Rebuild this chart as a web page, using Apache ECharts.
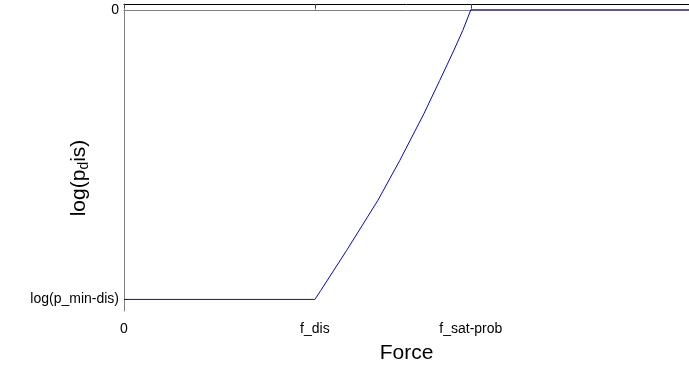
<!DOCTYPE html>
<html>
<head>
<meta charset="utf-8">
<script src="https://cdn.jsdelivr.net/npm/echarts@6/dist/echarts.min.js"></script>
<style>
  html, body { margin: 0; padding: 0; background: #fff; }
  #chart { width: 689px; height: 370px; }
</style>
</head>
<body>
<div id="chart"></div>
<script>
// tick positions (force in units of f_dis, log prob normalised)
const xTickValues = [0, 1, 1.817]
const xTickLabels = ['0', 'f_dis', 'f_sat-prob']
const yTickValues = [-1, 0]
const yTickLabels = ['log(p_min-dis)', '0']

// curve
const forceValues = [0, 1, 1.031, 1.166, 1.330, 1.445, 1.571, 1.654, 1.724, 1.775, 1.817, 2.96]
const logProbValues = [-1, -1, -0.969, -0.831, -0.658, -0.520, -0.359, -0.244, -0.146, -0.071, 0, 0]

const fontName = 'Liberation Sans'

const chartDiv = document.getElementById('chart')
const myChart = echarts.init(chartDiv)

const punti = forceValues.map((f, i) => [f, logProbValues[i]])

function labelX(v) {
    const i = xTickValues.indexOf(v)
    return i >= 0 ? xTickLabels[i] : ''
}

function labelY(v) {
    const i = yTickValues.indexOf(v)
    return i >= 0 ? yTickLabels[i] : ''
}

myChart.setOption({
    animation: false,
    grid: { left: 124, right: 0, top: 4, bottom: 59 },
    xAxis: [
        {
            type: 'value',
            min: 0,
            max: 2.96,
            position: 'bottom',
            splitLine: { show: false },
            axisLine: { show: true, lineStyle: { color: '#7f7f7f', width: 1 } },
            axisTick: { show: true, inside: true, length: 4, customValues: xTickValues, lineStyle: { color: '#7f7f7f' } },
            axisLabel: {
                customValues: xTickValues,
                formatter: labelX,
                margin: 11,
                color: '#000',
                fontFamily: fontName,
                fontSize: 14
            },
            name: 'Force',
            nameLocation: 'middle',
            nameGap: 32,
            nameTextStyle: { color: '#000', fontFamily: fontName, fontSize: 21 }
        },
        {
            type: 'value',
            min: 0,
            max: 2.96,
            position: 'top',
            splitLine: { show: false },
            axisLine: { show: true, lineStyle: { color: '#000', width: 1 } },
            axisTick: { show: true, inside: true, length: 4, customValues: xTickValues, lineStyle: { color: '#404040' } },
            axisLabel: { show: false }
        }
    ],
    yAxis: {
        type: 'value',
        min: -1.04,
        max: 0.02,
        splitLine: { show: false },
        axisLine: { show: true, lineStyle: { color: '#7f7f7f', width: 1 } },
        axisTick: { show: true, inside: true, length: 4, customValues: yTickValues, lineStyle: { color: '#7f7f7f' } },
        axisLabel: {
            customValues: yTickValues,
            formatter: labelY,
            margin: 5,
            padding: [4, 0, 0, 0],
            color: '#000',
            fontFamily: fontName,
            fontSize: 14
        }
    },
    graphic: [
        {
            type: 'text',
            x: 80,
            y: 178,
            rotation: Math.PI / 2,
            style: {
                text: '{n|log(p}{s|d}{n|is)}',
                textAlign: 'center',
                textVerticalAlign: 'middle',
                fill: '#000',
                rich: {
                    n: { fontFamily: fontName, fontSize: 21, lineHeight: 22, verticalAlign: 'top', fill: '#000' },
                    s: { fontFamily: fontName, fontSize: 14, lineHeight: 14, padding: [12, 0, 0, 0], verticalAlign: 'bottom', fill: '#000' }
                }
            }
        }
    ],
    series: [
        {
            type: 'line',
            data: punti,
            showSymbol: false,
            symbol: 'none',
            lineStyle: { color: '#0000ff', width: 1 },
            clip: true
        }
    ]
})
</script>
</body>
</html>
